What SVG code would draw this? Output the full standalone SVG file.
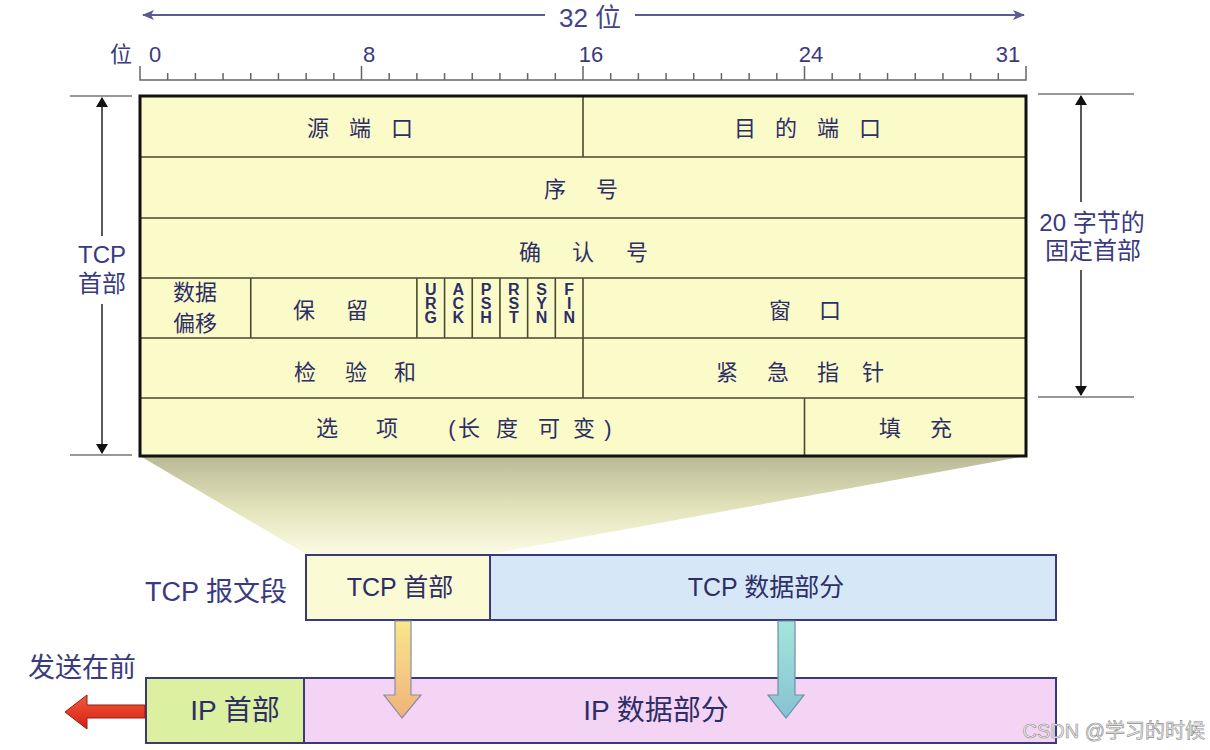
<svg xmlns="http://www.w3.org/2000/svg" width="1210" height="750" viewBox="0 0 1210 750">
<defs>
<style>
text{font-family:"Liberation Sans","Noto Sans CJK SC",sans-serif}
.cell{font-size:22px;fill:#2e2e66;text-anchor:middle}
.flag{font-size:16px;font-weight:bold;fill:#2e2e66;writing-mode:vertical-rl;text-orientation:upright;letter-spacing:-3px}
.lbl{fill:#3a3a80;text-anchor:middle}
.ruler{stroke:#666;stroke-width:1.5;fill:none}
.dim{stroke:#222;stroke-width:1.5;fill:none}
.dimtick{stroke:#777;stroke-width:1.5;fill:none}
.grid{stroke:#4a4a30;stroke-width:1.6;fill:none}
.seg{stroke:#3a3a7a;stroke-width:2}
</style>
<marker id="blueHead" viewBox="0 0 12 10" refX="11" refY="5" markerWidth="12" markerHeight="10" markerUnits="userSpaceOnUse" orient="auto-start-reverse">
<path d="M0,0 L12,5 L0,10 L3,5 Z" fill="#5a5a96"/>
</marker>
<marker id="blackHead" viewBox="0 0 10 16" refX="9" refY="8" markerWidth="10" markerHeight="16" markerUnits="userSpaceOnUse" orient="auto-start-reverse">
<path d="M0,2 L10,8 L0,14 Z" fill="#111"/>
</marker>
<linearGradient id="funnel" x1="0" y1="0" x2="0" y2="1">
<stop offset="0" stop-color="#b9b996"/>
<stop offset="0.55" stop-color="#e4e4bc"/>
<stop offset="1" stop-color="#fbfbe4"/>
</linearGradient>
<linearGradient id="yellowArrow" x1="0" y1="0" x2="0" y2="1">
<stop offset="0" stop-color="#f8e88c"/>
<stop offset="1" stop-color="#f0b27a"/>
</linearGradient>
<linearGradient id="tealArrow" x1="0" y1="0" x2="0" y2="1">
<stop offset="0" stop-color="#a4e6dc"/>
<stop offset="1" stop-color="#86c2d2"/>
</linearGradient>
<linearGradient id="redArrow" x1="0" y1="0" x2="0" y2="1">
<stop offset="0" stop-color="#f05a3c"/>
<stop offset="1" stop-color="#d81e12"/>
</linearGradient>
</defs>
<rect width="1210" height="750" fill="#ffffff"/>

<!-- funnel -->
<polygon id="funnel-shape" points="140,456 1026,456 490,554 306,554" fill="url(#funnel)"/>

<!-- top 32-bit arrow -->
<g id="width-label">
<line x1="143" y1="15" x2="545" y2="15" stroke="#5a5a96" stroke-width="2" marker-start="url(#blueHead)"/>
<line x1="635" y1="15" x2="1024" y2="15" stroke="#5a5a96" stroke-width="2" marker-end="url(#blueHead)"/>
<text x="590" y="27" class="lbl" style="font-size:26px;fill:#44448a">32 位</text>
</g>

<!-- ruler -->
<g id="ruler">
<path class="ruler" d="M140,66 V80 H1026 V66 M361.5,66 V80 M583,66 V80 M804.5,66 V80
M167.69,73V80 M195.38,73V80 M223.06,73V80 M250.75,73V80 M278.44,73V80 M306.13,73V80 M333.81,73V80
M389.19,73V80 M416.88,73V80 M444.56,73V80 M472.25,73V80 M499.94,73V80 M527.63,73V80 M555.31,73V80
M610.69,73V80 M638.38,73V80 M666.06,73V80 M693.75,73V80 M721.44,73V80 M749.13,73V80 M776.81,73V80
M832.19,73V80 M859.88,73V80 M887.56,73V80 M915.25,73V80 M942.94,73V80 M970.63,73V80 M998.31,73V80"/>
<text class="lbl" x="121" y="62" style="font-size:22px">位</text>
<text class="lbl" x="155" y="62" style="font-size:22px">0</text>
<text class="lbl" x="369" y="62" style="font-size:22px">8</text>
<text class="lbl" x="591" y="62" style="font-size:22px">16</text>
<text class="lbl" x="811" y="62" style="font-size:22px">24</text>
<text class="lbl" x="1008" y="62" style="font-size:22px">31</text>
</g>

<!-- TCP header table -->
<g id="tcp-header">
<rect x="140" y="96" width="886" height="360" fill="#fbfbca"/>
<path class="grid" d="M140,157 H1026 M140,218 H1026 M140,278 H1026 M140,338 H1026 M140,398 H1026
M583,96 V157 M250.75,278 V338 M416.88,278 V338 M444.56,278 V338 M472.25,278 V338 M499.94,278 V338 M527.63,278 V338 M555.31,278 V338 M583,278 V338
M583,338 V398 M804.5,398 V456"/>
<rect x="140" y="96" width="886" height="360" fill="none" stroke="#111" stroke-width="3"/>
</g>

<g id="field-src-port"><text class="cell" x="318 360 402" y="136">源端口</text></g>
<g id="field-dst-port"><text class="cell" x="745 786 828 870" y="136">目的端口</text></g>
<g id="field-seq"><text class="cell" x="555 607" y="197">序号</text></g>
<g id="field-ack"><text class="cell" x="530 583 637" y="260">确认号</text></g>
<g id="field-offset"><text class="cell" x="195" y="300">数据</text><text class="cell" x="195" y="331">偏移</text></g>
<g id="field-reserved"><text class="cell" x="304 357" y="318">保留</text></g>
<g id="flag-urg"><text class="flag" x="430.7" y="281">URG</text></g>
<g id="flag-ack"><text class="flag" x="458.4" y="281">ACK</text></g>
<g id="flag-psh"><text class="flag" x="486.1" y="281">PSH</text></g>
<g id="flag-rst"><text class="flag" x="513.8" y="281">RST</text></g>
<g id="flag-syn"><text class="flag" x="541.5" y="281">SYN</text></g>
<g id="flag-fin"><text class="flag" x="569.2" y="281">FIN</text></g>
<g id="field-window"><text class="cell" x="780 830" y="318">窗口</text></g>
<g id="field-checksum"><text class="cell" x="305 356 405" y="380">检验和</text></g>
<g id="field-urgent"><text class="cell" x="727 778 828 873" y="380">紧急指针</text></g>
<g id="field-options"><text class="cell" x="327 387 452 469 507 549 584 608" y="436">选项(长度可变)</text></g>
<g id="field-padding"><text class="cell" x="890 941" y="436">填充</text></g>

<!-- side labels -->
<g id="label-tcp-header">
<text class="lbl" x="102" y="263" style="font-size:24px">TCP</text>
<text class="lbl" x="102" y="292" style="font-size:24px">首部</text>
</g>
<g id="label-fixed-header">
<text class="lbl" x="1092" y="231" style="font-size:24px">20 字节的</text>
<text class="lbl" x="1093" y="259" style="font-size:24px">固定首部</text>
</g>

<!-- TCP segment -->
<g id="tcp-segment-label"><text x="287" y="601" style="font-size:27px;fill:#3a3a80;text-anchor:end">TCP 报文段</text></g>
<g id="tcp-seg-header">
<rect class="seg" x="306" y="555" width="184" height="65" fill="#fafad4"/>
<text class="lbl" x="400" y="596" style="font-size:25px;fill:#2e2e66">TCP 首部</text>
</g>
<g id="tcp-seg-data">
<rect class="seg" x="490" y="555" width="566" height="65" fill="#d6e8f8"/>
<text class="lbl" x="766" y="596" style="font-size:25px;fill:#2e2e66">TCP 数据部分</text>
</g>

<!-- IP datagram -->
<g id="send-first-label"><text x="28" y="677" style="font-size:27px;fill:#3a3a80">发送在前</text></g>
<g id="ip-header">
<rect class="seg" x="146" y="678" width="158" height="65" fill="#dcf0a2"/>
<text class="lbl" x="235" y="720" style="font-size:28px;fill:#2e2e66">IP 首部</text>
</g>
<g id="ip-data">
<rect class="seg" x="304" y="678" width="752" height="65" fill="#f4d4f4"/>
<text class="lbl" x="656" y="720" style="font-size:28px;fill:#2e2e66">IP 数据部分</text>
</g>

<!-- connectors -->
<g id="connectors">
<path class="dimtick" d="M70,96 H132 M70,455 H132 M1038,94 H1134 M1038,397 H1134"/>
<line class="dim" x1="102" y1="236" x2="102" y2="98" marker-end="url(#blackHead)"/>
<line class="dim" x1="102" y1="304" x2="102" y2="453" marker-end="url(#blackHead)"/>
<line class="dim" x1="1081" y1="202" x2="1081" y2="96" marker-end="url(#blackHead)"/>
<line class="dim" x1="1081" y1="270" x2="1081" y2="395" marker-end="url(#blackHead)"/>
<path d="M395,621 H411 V695 H421 L402,718 L384,695 H395 Z" fill="url(#yellowArrow)" stroke="#8c8ca6" stroke-width="1.2"/>
<path d="M778,621 H795 V695 H804 L786,718 L768,695 H778 Z" fill="url(#tealArrow)" stroke="#6e8ea6" stroke-width="1.2"/>
<path d="M145,705 H87 V695 L65,712 L87,729 V718 H145 Z" fill="url(#redArrow)" stroke="#9a1a10" stroke-width="1"/>
</g>

<text x="1205" y="738" style="font-size:20px;fill:#f2f2f2;stroke:#8a8a8a;stroke-width:0.6;text-anchor:end">CSDN @学习的时候</text>
</svg>
